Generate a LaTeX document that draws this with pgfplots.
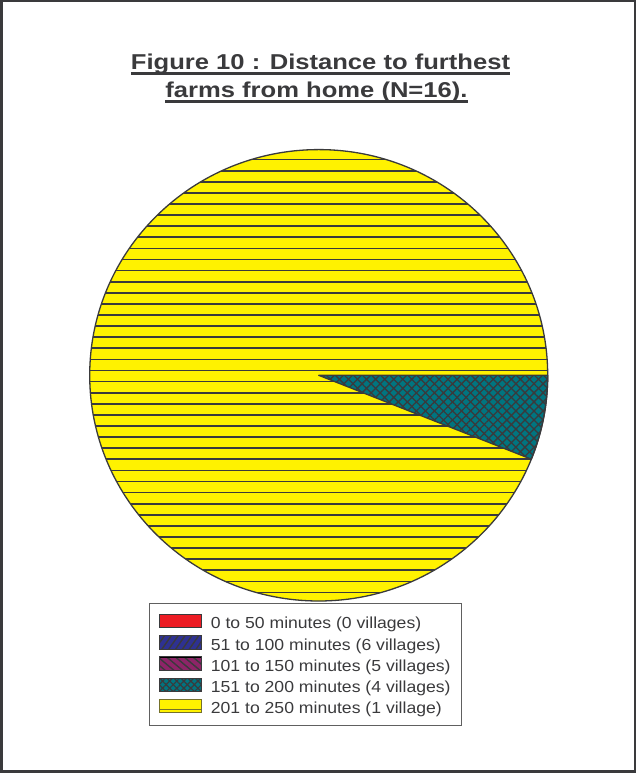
\documentclass[border=0pt]{standalone}
\usepackage{fontspec}
\setmainfont{Liberation Sans}
\newfontfamily\titlefont[FakeStretch=1.19]{Liberation Sans}
\newfontfamily\legfont[FakeStretch=1.1]{Liberation Sans}
\usepackage{pgfplots}
\pgfplotsset{compat=1.18}
\usepackage{pgfplotstable}
\usetikzlibrary{patterns.meta}

\definecolor{ink}{HTML}{3A3A3C}
\definecolor{pieyellow}{HTML}{FFF200}
\definecolor{pieteal}{HTML}{007580}
\definecolor{piered}{HTML}{ED1C24}
\definecolor{pieblue}{HTML}{2E3192}
\definecolor{piepurple}{HTML}{8E2468}

% share of the pie drawn for each class (percent), in drawing order (clockwise from 3 o'clock)
\pgfplotstableread{
slice share
red 0
blue 0
purple 0
teal 6.06
yellow 93.94
}\slices

\pgfplotstablegetelem{0}{share}\of\slices \let\sa\pgfplotsretval
\pgfplotstablegetelem{1}{share}\of\slices \let\sb\pgfplotsretval
\pgfplotstablegetelem{2}{share}\of\slices \let\sc\pgfplotsretval
\pgfplotstablegetelem{3}{share}\of\slices \let\sd\pgfplotsretval
\pgfplotstablegetelem{4}{share}\of\slices \let\se\pgfplotsretval
\pgfmathsetmacro\tealstart{-3.6*(\sa+\sb+\sc)}
\pgfmathsetmacro\tealend{\tealstart-3.6*\sd}
\pgfmathsetmacro\yelend{\tealend-3.6*\se}

\def\cx{318.7}
\def\cy{397.7}

\begin{document}
\begin{tikzpicture}
\begin{axis}[
  x=1bp, y=1bp,
  xmin=0, xmax=636, ymin=0, ymax=773,
  hide axis, clip=false,
  legend cell align=left,
  legend style={
    at={(axis cs:158.3,159.2)}, anchor=north west,
    draw=none, fill=none, inner sep=0pt,
    font=\legfont\fontsize{16bp}{19bp}\selectfont, text=ink,
    row sep=2.5bp, column sep=9bp,
    nodes={inner sep=0pt, text height=12bp, text depth=3.5bp},
  },
]
% legend entries
\addlegendimage{legend image code/.code={
  \draw[draw=ink, line width=0.8bp, fill=piered] (0bp,-3.2bp) rectangle (42bp,10.3bp);}}
\addlegendentry{0 to 50 minutes (0 villages)}
\addlegendimage{legend image code/.code={
  \fill[pieblue] (0bp,-3.2bp) rectangle (42bp,10.3bp);
  \fill[pattern={Lines[angle=55,distance=5.6bp,line width=1.4bp]}, pattern color=ink] (0bp,-3.2bp) rectangle (42bp,10.3bp);
  \draw[draw=ink, line width=0.8bp] (0bp,-3.2bp) rectangle (42bp,10.3bp);}}
\addlegendentry{51 to 100 minutes (6 villages)}
\addlegendimage{legend image code/.code={
  \fill[piepurple] (0bp,-3.2bp) rectangle (42bp,10.3bp);
  \fill[pattern={Lines[angle=-40,distance=5.6bp,line width=1.4bp]}, pattern color=ink] (0bp,-3.2bp) rectangle (42bp,10.3bp);
  \draw[draw=ink, line width=0.8bp] (0bp,-3.2bp) rectangle (42bp,10.3bp);}}
\addlegendentry{101 to 150 minutes (5 villages)}
\addlegendimage{legend image code/.code={
  \fill[pieteal] (0bp,-3.2bp) rectangle (42bp,10.3bp);
  \fill[pattern={Lines[angle=45,distance=5bp,line width=1.2bp]}, pattern color=ink] (0bp,-3.2bp) rectangle (42bp,10.3bp);
  \fill[pattern={Lines[angle=-45,distance=5bp,line width=1.2bp]}, pattern color=ink] (0bp,-3.2bp) rectangle (42bp,10.3bp);
  \draw[draw=ink, line width=0.8bp] (0bp,-3.2bp) rectangle (42bp,10.3bp);}}
\addlegendentry{151 to 200 minutes (4 villages)}
\addlegendimage{legend image code/.code={
  \fill[pieyellow] (0bp,-3.2bp) rectangle (42bp,10.3bp);
  \draw[draw=ink!70!pieyellow, line width=1bp] (0bp,-0.2bp) -- (42bp,-0.2bp);
  \draw[draw=ink!70!pieyellow, line width=0.9bp] (0bp,-3.2bp) rectangle (42bp,10.3bp);}}
\addlegendentry{201 to 250 minutes (1 village)}

% outer frame
\draw[ink, line width=2.5bp] (axis cs:1.25,1.25) rectangle (axis cs:634.75,771.75);

% yellow slice with horizontal hatching
\fill[pieyellow] (axis cs:\cx,\cy) -- ++(\tealend:229bp and 225.7bp) arc[start angle=\tealend, end angle=\yelend, x radius=229bp, y radius=225.7bp] -- cycle;
\begin{scope}
\clip (axis cs:\cx,\cy) -- ++(\tealend:229bp and 225.7bp) arc[start angle=\tealend, end angle=\yelend, x radius=229bp, y radius=225.7bp] -- cycle;
\draw[ink, line width=1.7bp] foreach \k in {-26,...,15} {(axis cs:80,458) ++(0pt,{\k*11.1bp}) -- ++(480bp,0pt)};
\end{scope}
% teal slice
\fill[pieteal] (axis cs:\cx,\cy) -- ++(\tealstart:229bp and 225.7bp) arc[start angle=\tealstart, end angle=\tealend, x radius=229bp, y radius=225.7bp] -- cycle;
\fill[pattern={Lines[angle=45,distance=6.4bp,line width=1.3bp]}, pattern color=ink] (axis cs:\cx,\cy) -- ++(\tealstart:229bp and 225.7bp) arc[start angle=\tealstart, end angle=\tealend, x radius=229bp, y radius=225.7bp] -- cycle;
\fill[pattern={Lines[angle=-45,distance=6.4bp,line width=1.3bp]}, pattern color=ink] (axis cs:\cx,\cy) -- ++(\tealstart:229bp and 225.7bp) arc[start angle=\tealstart, end angle=\tealend, x radius=229bp, y radius=225.7bp] -- cycle;
% outlines
\draw[ink, line width=1.3bp, line join=round] (axis cs:\cx,\cy) -- ++(\tealstart:229bp and 225.7bp) arc[start angle=\tealstart, end angle=\tealend, x radius=229bp, y radius=225.7bp] -- cycle;
\draw[ink, line width=1.3bp] (axis cs:\cx,\cy) ellipse[x radius=229bp, y radius=225.7bp];

% legend box
\draw[gray!75!black, line width=1bp] (axis cs:149.5,169) rectangle (axis cs:461.7,47);

% title
\node[anchor=base, inner sep=0pt, text=ink, font=\titlefont\bfseries\fontsize{21.5bp}{26bp}\selectfont] (t1) at (axis cs:320.5,703.5) {Figure 10 : Distance to furthest\ };
\node[anchor=base, inner sep=0pt, text=ink, font=\titlefont\bfseries\fontsize{21.5bp}{26bp}\selectfont] (t2) at (axis cs:316.5,675.5) {farms from home (N=16).};
\draw[ink, line width=2.7bp] ([yshift=-4bp]t1.base west) -- ([yshift=-4bp]t1.base east);
\draw[ink, line width=2.7bp] ([yshift=-4.3bp]t2.base west) -- ([yshift=-4.3bp]t2.base east);
\end{axis}
\end{tikzpicture}
\end{document}
